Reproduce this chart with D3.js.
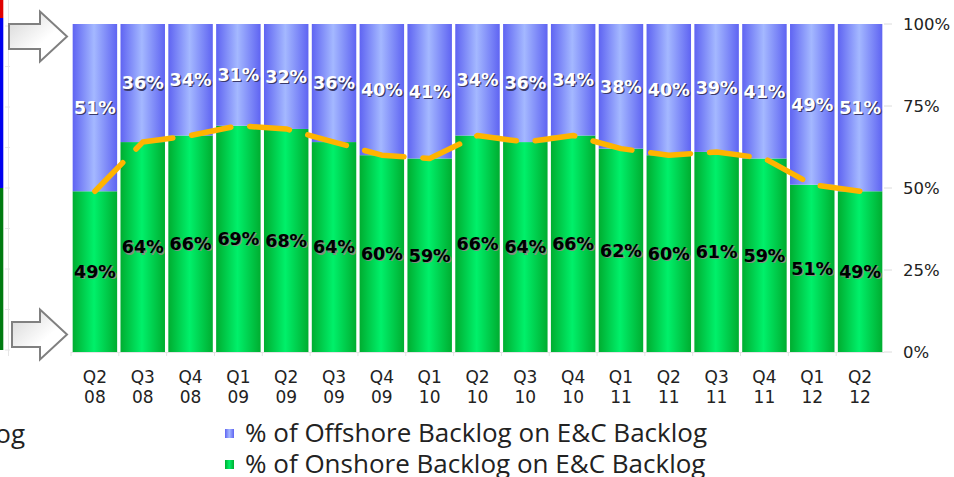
<!DOCTYPE html>
<html>
<head>
<meta charset="utf-8">
<script src="https://cdn.jsdelivr.net/npm/d3@7"></script>
<style>
  html, body { margin: 0; padding: 0; background: #fff; }
  svg { display: block; }
</style>
</head>
<body>
<svg id="chart" width="954" height="477"></svg>
<script>
// Quarterly split of the E&C backlog between onshore and offshore work
const quarters = ["Q2 08","Q3 08","Q4 08","Q1 09","Q2 09","Q3 09","Q4 09","Q1 10","Q2 10",
                  "Q3 10","Q4 10","Q1 11","Q2 11","Q3 11","Q4 11","Q1 12","Q2 12"];
const onshore  = [49, 64, 66, 69, 68, 64, 60, 59, 66, 64, 66, 62, 60, 61, 59, 51, 49];
const offshore = [51, 36, 34, 31, 32, 36, 40, 41, 34, 36, 34, 38, 40, 39, 41, 49, 51];
const yTicks   = [0, 25, 50, 75, 100];
const legendLabels = ["% of Offshore Backlog on E&C Backlog", "% of Onshore Backlog on E&C Backlog"];

const svg = d3.select("#chart");
const plot = { left: 71, right: 884, top: 24, bottom: 352 };

const x = d3.scaleBand().domain(quarters).range([plot.left, plot.right]).paddingInner(0.07).paddingOuter(0.035);
const y = d3.scaleLinear().domain([0, 100]).range([plot.bottom, plot.top]);

// Cylinder-style shading for the bars
const defs = svg.append("defs");
function shade(id, edge, mid) {
  const g = defs.append("linearGradient").attr("id", id).attr("x1", "0%").attr("x2", "100%").attr("y1", "0%").attr("y2", "0%");
  g.append("stop").attr("offset", "0%").attr("stop-color", edge);
  g.append("stop").attr("offset", "48%").attr("stop-color", mid);
  g.append("stop").attr("offset", "100%").attr("stop-color", edge);
}
shade("gBlue", "#5f64f2", "#a4b8ff");
shade("gGreen", "#00ad30", "#00f06a");
const ag = defs.append("linearGradient").attr("id", "gArrow").attr("x1", "0%").attr("y1", "0%").attr("x2", "100%").attr("y2", "100%");
ag.append("stop").attr("offset", "0%").attr("stop-color", "#d4d4d4");
ag.append("stop").attr("offset", "60%").attr("stop-color", "#ffffff");

// Partial neighbouring panel at the far left
const side = svg.append("g");
side.append("line").attr("x1", 8.5).attr("x2", 8.5).attr("y1", 0).attr("y2", 356).attr("stroke", "#e6e6e6");
d3.range(0, 9).forEach(i => {
  side.append("line").attr("x1", 5).attr("x2", 10).attr("y1", 26 + i * 40.5).attr("y2", 26 + i * 40.5).attr("stroke", "#e6e6e6");
});
side.append("rect").attr("x", 0).attr("y", 0).attr("width", 3.3).attr("height", 18).attr("fill", "#e00000");
side.append("rect").attr("x", 0).attr("y", 18).attr("width", 3.3).attr("height", 170).attr("fill", "#0000ee");
side.append("rect").attr("x", 0).attr("y", 188).attr("width", 3.3).attr("height", 162).attr("fill", "#007a10");
side.append("text").attr("x", 25).attr("y", 443).attr("text-anchor", "end")
  .attr("font-family", "'Open Sans', 'DejaVu Sans', sans-serif").attr("font-size", 26).attr("fill", "#222").text("og");

// Outline arrows pointing at the 100% and 0% levels
function arrow(x0, cy, bodyH, headH, bodyEnd, tip) {
  const p = [[x0, cy - bodyH / 2], [bodyEnd, cy - bodyH / 2], [bodyEnd, cy - headH / 2], [tip, cy],
             [bodyEnd, cy + headH / 2], [bodyEnd, cy + bodyH / 2], [x0, cy + bodyH / 2]];
  svg.append("path").attr("d", d3.line()(p) + "Z").attr("fill", "url(#gArrow)")
    .attr("stroke", "#808080").attr("stroke-width", 2).attr("stroke-linejoin", "miter");
}
arrow(9, 36.5, 25, 50, 40, 67);
arrow(12, 334.5, 25, 50, 40, 67);

// Right-hand axis ticks
const axis = svg.append("g");
yTicks.forEach(t => {
  axis.append("line").attr("x1", plot.right).attr("x2", plot.right + 8).attr("y1", y(t)).attr("y2", y(t)).attr("stroke", "#dcdcdc");
  axis.append("text").attr("x", 903).attr("y", y(t)).attr("dy", "0.36em")
    .attr("font-family", "'DejaVu Sans', sans-serif").attr("font-size", 16.5).attr("fill", "#222").text(t + "%");
});
// Baseline ticks under the bars
quarters.forEach((q, i) => {
  const xv = plot.left + (plot.right - plot.left) * i / quarters.length;
  axis.append("line").attr("x1", xv).attr("x2", xv).attr("y1", plot.bottom).attr("y2", plot.bottom + 4).attr("stroke", "#e4e4e4");
});
axis.append("line").attr("x1", plot.left).attr("x2", plot.right).attr("y1", plot.bottom + 0.5).attr("y2", plot.bottom + 0.5).attr("stroke", "#e4e4e4");

// Stacked bars
const bars = svg.append("g");
bars.selectAll("rect.on").data(quarters).join("rect").attr("class", "on")
  .attr("x", d => x(d)).attr("width", x.bandwidth())
  .attr("y", (d, i) => y(onshore[i])).attr("height", (d, i) => y(0) - y(onshore[i]))
  .attr("fill", "url(#gGreen)");
bars.selectAll("rect.off").data(quarters).join("rect").attr("class", "off")
  .attr("x", d => x(d)).attr("width", x.bandwidth())
  .attr("y", (d, i) => y(onshore[i] + offshore[i])).attr("height", (d, i) => y(onshore[i]) - y(onshore[i] + offshore[i]))
  .attr("fill", "url(#gBlue)");

// Dashed trend of the onshore share
const cx = d => x(d) + x.bandwidth() / 2;
svg.append("path")
  .attr("d", d3.line().x((d, i) => cx(quarters[i])).y(d => y(d))(onshore))
  .attr("fill", "none").attr("stroke", "#ffb400").attr("stroke-width", 5.5)
  .attr("stroke-dasharray", "40 19").attr("stroke-linecap", "round").attr("stroke-linejoin", "round");

// Value labels with drop shadows
function label(g, xv, yv, txt, fill, shadow) {
  const base = { "text-anchor": "middle", "font-family": "'DejaVu Sans', Verdana, sans-serif", "font-weight": "bold", "font-size": 17.5 };
  const s = g.append("text").attr("x", xv + 1.2).attr("y", yv + 1.2).attr("dy", "0.36em").attr("fill", shadow).text(txt);
  const t = g.append("text").attr("x", xv).attr("y", yv).attr("dy", "0.36em").attr("fill", fill).text(txt);
  Object.entries(base).forEach(([k, v]) => { s.attr(k, v); t.attr(k, v); });
}
const labels = svg.append("g");
quarters.forEach((q, i) => {
  label(labels, cx(q), (y(onshore[i]) + y(100)) / 2, offshore[i] + "%", "#ffffff", "#3a3a6a");
  label(labels, cx(q), (y(0) + y(onshore[i])) / 2, onshore[i] + "%", "#000000", "#7f907f");
});

// Two-line quarter labels
const xl = svg.append("g").attr("font-family", "'DejaVu Sans', sans-serif").attr("font-size", 17).attr("fill", "#222").attr("text-anchor", "middle");
quarters.forEach(q => {
  const [a, b] = q.split(" ");
  xl.append("text").attr("x", cx(q)).attr("y", 383).text(a);
  xl.append("text").attr("x", cx(q)).attr("y", 403).text(b);
});

// Legend
const lg = svg.append("g");
[["url(#gBlue)", 0], ["url(#gGreen)", 1]].forEach(([fill, i]) => {
  lg.append("rect").attr("x", 225).attr("y", 429 + i * 31).attr("width", 9).attr("height", 9).attr("fill", fill);
  lg.append("text").attr("x", 245).attr("y", 442 + i * 31)
    .attr("font-family", "'Open Sans', 'DejaVu Sans', sans-serif").attr("font-size", 26).attr("fill", "#222")
    .text(legendLabels[i]);
});
</script>
</body>
</html>
